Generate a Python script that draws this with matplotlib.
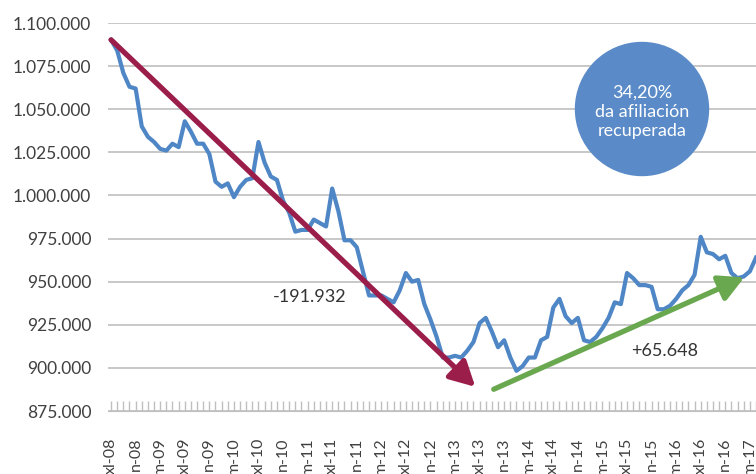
"""Afiliación mensual 2008-2017: caída e recuperación."""
import matplotlib
matplotlib.use('Agg')
import matplotlib.pyplot as plt
from matplotlib.patches import Circle
from matplotlib.ticker import FuncFormatter, MultipleLocator

plt.rcParams.update({
    'font.family': ['Lato', 'DejaVu Sans'],
    'font.size': 12,
    'text.color': '#404040',
    'xtick.color': '#BFBFBF',
    'ytick.color': '#BFBFBF',
    'xtick.labelcolor': '#404040',
    'ytick.labelcolor': '#404040',
})

# monthly affiliation, xul-2008 .. abr-2017
afiliados = [
    1090232, 1084000, 1071000, 1063000, 1062000, 1040000, 1034000, 1031000,
    1027000, 1026000, 1030000, 1028000, 1043000, 1037000, 1030000, 1030000,
    1024000, 1008000, 1005000, 1007000, 999000, 1005000, 1009000, 1010000,
    1031000, 1019000, 1011000, 1009000, 997000, 990000, 979000, 980000,
    980000, 986000, 984000, 982000, 1004000, 991000, 974000, 974000,
    970000, 956000, 942000, 942000, 942000, 940000, 938000, 945000,
    955000, 950000, 951000, 937000, 928000, 918000, 906000, 906000,
    907000, 906000, 910000, 915000, 926000, 929000, 921000, 912000,
    916000, 906000, 898300, 901000, 906000, 906000, 916000, 918000,
    935000, 940000, 930000, 926000, 929000, 916000, 915000, 918000,
    923000, 929000, 938000, 937000, 955000, 952000, 948000, 948000,
    947000, 934000, 934000, 936000, 940000, 945000, 948000, 954000,
    976000, 967000, 966000, 963000, 965000, 955000, 952000, 953000,
    956000, 963948,
]
meses = list(range(len(afiliados)))

etiquetas = ['xl-08', 'n-08', 'm-09', 'xl-09', 'n-09', 'm-10', 'xl-10', 'n-10',
             'm-11', 'xl-11', 'n-11', 'm-12', 'xl-12', 'n-12', 'm-13', 'xl-13',
             'n-13', 'm-14', 'xl-14', 'n-14', 'm-15', 'xl-15', 'n-15', 'm-16',
             'xl-16', 'n-16', 'm-17']

# annotation anchors (month index, value)
caida_fin = (59.3, 889000)
subida_ini = (62.3, 887600)
subida_fin = (103.1, 952500)
txt_caida = (32.4, 941300)
txt_subida = (90.1, 909900)

AZUL = '#4F86C6'
GRANATE = '#9B1D4A'
VERDE = '#6AA84F'

fig = plt.figure(figsize=(7.56, 4.74), dpi=100)
ax = fig.add_axes([108 / 756, 1 - 411 / 474, 1 - 108 / 756, (411 - 23) / 474])

ax.plot(meses, afiliados, color=AZUL, lw=3.0, solid_joinstyle='round', zorder=3)

ax.set_ylim(875000, 1100000)
ax.set_xlim(-0.5, 104.9)
ax.yaxis.set_major_locator(MultipleLocator(25000))
ax.yaxis.set_major_formatter(FuncFormatter(lambda v, p: f'{int(v):,}'.replace(',', '.')))
ax.yaxis.grid(True, color='#BFBFBF', lw=1.2)
ax.set_axisbelow(True)

ax.set_xticks(range(0, 105, 4))
ax.set_xticklabels(etiquetas, rotation=90, va='top', fontsize=11.5)
ax.set_xticks(meses, minor=True)
ax.tick_params(axis='x', which='both', direction='in', length=7, width=1, pad=19)
ax.tick_params(axis='y', length=0, pad=12, labelsize=12.5)

for s in ['left', 'right', 'top']:
    ax.spines[s].set_visible(False)
ax.spines['bottom'].set_color('#BFBFBF')

arrow = dict(arrowstyle='-|>,head_length=0.75,head_width=0.4', lw=3.8,
             mutation_scale=20, shrinkA=0, shrinkB=0)
ax.annotate('', xy=caida_fin, xytext=(meses[0], afiliados[0]),
            arrowprops=dict(arrow, color=GRANATE), zorder=4)
ax.annotate('', xy=subida_fin, xytext=subida_ini,
            arrowprops=dict(arrow, color=VERDE), zorder=4)

ax.text(*txt_caida, '-191.932', ha='center', va='center', fontsize=13, color='#333333')
ax.text(*txt_subida, '+65.648', ha='center', va='center', fontsize=13, color='#333333')

circulo = Circle((6.42, 3.65), 0.665, transform=fig.dpi_scale_trans,
                 color='#5A8BC8', zorder=5)
fig.patches.append(circulo)
fig.text(6.42 / 7.56, 3.62 / 4.74, '34,20%\nda afiliación\nrecuperada', ha='center',
         va='center', color='white', fontsize=13, linespacing=1.25, zorder=6)

fig.savefig('out.png', dpi=100)
